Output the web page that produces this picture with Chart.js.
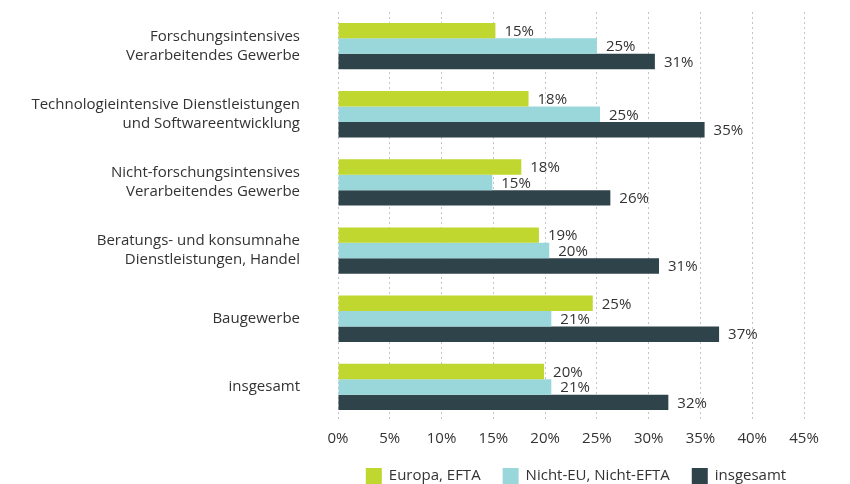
<!DOCTYPE html>
<html>
<head>
<meta charset="utf-8">
<script src="https://cdn.jsdelivr.net/npm/chart.js@4"></script>
<style>
html,body{margin:0;padding:0;background:#fff;}
#wrap{width:850px;height:484px;position:relative;}
</style>
</head>
<body>
<div id="wrap"><canvas id="c" width="850" height="484"></canvas></div>
<script>
const categories = [
  ["Forschungsintensives", "Verarbeitendes Gewerbe"],
  ["Technologieintensive Dienstleistungen", "und Softwareentwicklung"],
  ["Nicht-forschungsintensives", "Verarbeitendes Gewerbe"],
  ["Beratungs- und konsumnahe", "Dienstleistungen, Handel"],
  ["Baugewerbe"],
  ["insgesamt"]
];
const seriesNames = ["Europa, EFTA", "Nicht-EU, Nicht-EFTA", "insgesamt"];
const europaEFTA = [15.2, 18.4, 17.7, 19.4, 24.6, 19.9];
const nichtEU = [25.0, 25.3, 14.9, 20.4, 20.6, 20.6];
const insgesamt = [30.6, 35.4, 26.3, 31.0, 36.8, 31.9];
const xTicks = [0, 5, 10, 15, 20, 25, 30, 35, 40, 45];
const colors = ["#bfd72f", "#9ad7da", "#2f434b"];

const FONT = "'Open Sans', 'Noto Sans', sans-serif";
const TXT = "#333333";
const FS = 15;

const valueLabels = {
  id: "valueLabels",
  afterDatasetsDraw(chart) {
    const ctx = chart.ctx;
    ctx.save();
    ctx.font = FS + "px " + FONT;
    ctx.fillStyle = TXT;
    ctx.textAlign = "left";
    ctx.textBaseline = "middle";
    chart.data.datasets.forEach((ds, i) => {
      const meta = chart.getDatasetMeta(i);
      meta.data.forEach((el, j) => {
        ctx.fillText(Math.round(ds.data[j]) + "%", el.x + 9, el.y + 1);
      });
    });
    ctx.restore();
  }
};

const customLegend = {
  id: "customLegend",
  afterDraw(chart) {
    const ctx = chart.ctx;
    const ds = chart.data.datasets;
    ctx.save();
    ctx.font = FS + "px " + FONT;
    ctx.textBaseline = "middle";
    ctx.textAlign = "left";
    const box = 16, gapText = 7, gapItem = 22;
    const widths = ds.map(d => box + gapText + ctx.measureText(d.label).width);
    const total = widths.reduce((a, b) => a + b, 0) + gapItem * (ds.length - 1);
    const ca = chart.chartArea;
    let x = (ca.left + ca.right) / 2 + 5 - total / 2;
    const y = 476;
    ds.forEach((d, i) => {
      ctx.fillStyle = d.backgroundColor;
      ctx.fillRect(x, y - box / 2, box, box);
      ctx.fillStyle = TXT;
      ctx.fillText(d.label, x + box + gapText, y);
      x += widths[i] + gapItem;
    });
    ctx.restore();
  }
};

new Chart(document.getElementById("c"), {
  type: "bar",
  data: {
    labels: categories,
    datasets: [
      { label: seriesNames[0], data: europaEFTA, backgroundColor: colors[0] },
      { label: seriesNames[1], data: nichtEU, backgroundColor: colors[1] },
      { label: seriesNames[2], data: insgesamt, backgroundColor: colors[2] }
    ]
  },
  options: {
    indexAxis: "y",
    responsive: false,
    animation: false,
    devicePixelRatio: 1,
    datasets: { bar: { categoryPercentage: 0.68, barPercentage: 1.0, borderWidth: 0 } },
    layout: { padding: { top: 12, right: 46, left: 0, bottom: 27 } },
    scales: {
      x: {
        min: 0, max: 45,
        afterBuildTicks(scale) { scale.ticks = xTicks.map(v => ({ value: v })); },
        grid: { color: "#c4c4c4", drawTicks: false, lineWidth: 1 },
        border: { display: false, dash: [2, 3] },
        ticks: {
          padding: 9,
          color: TXT,
          font: { family: FONT, size: FS },
          callback: v => v + "%"
        }
      },
      y: {
        afterFit(scale) { scale.width = 338; scale.paddingTop = 0; scale.paddingBottom = 0; },
        grid: { display: false, drawTicks: false },
        border: { display: false },
        ticks: {
          padding: 38,
          color: TXT,
          font: { family: FONT, size: FS, lineHeight: 1.27 }
        }
      }
    },
    plugins: {
      legend: { display: false },
      tooltip: { enabled: false }
    }
  },
  plugins: [valueLabels, customLegend]
});
</script>
</body>
</html>
